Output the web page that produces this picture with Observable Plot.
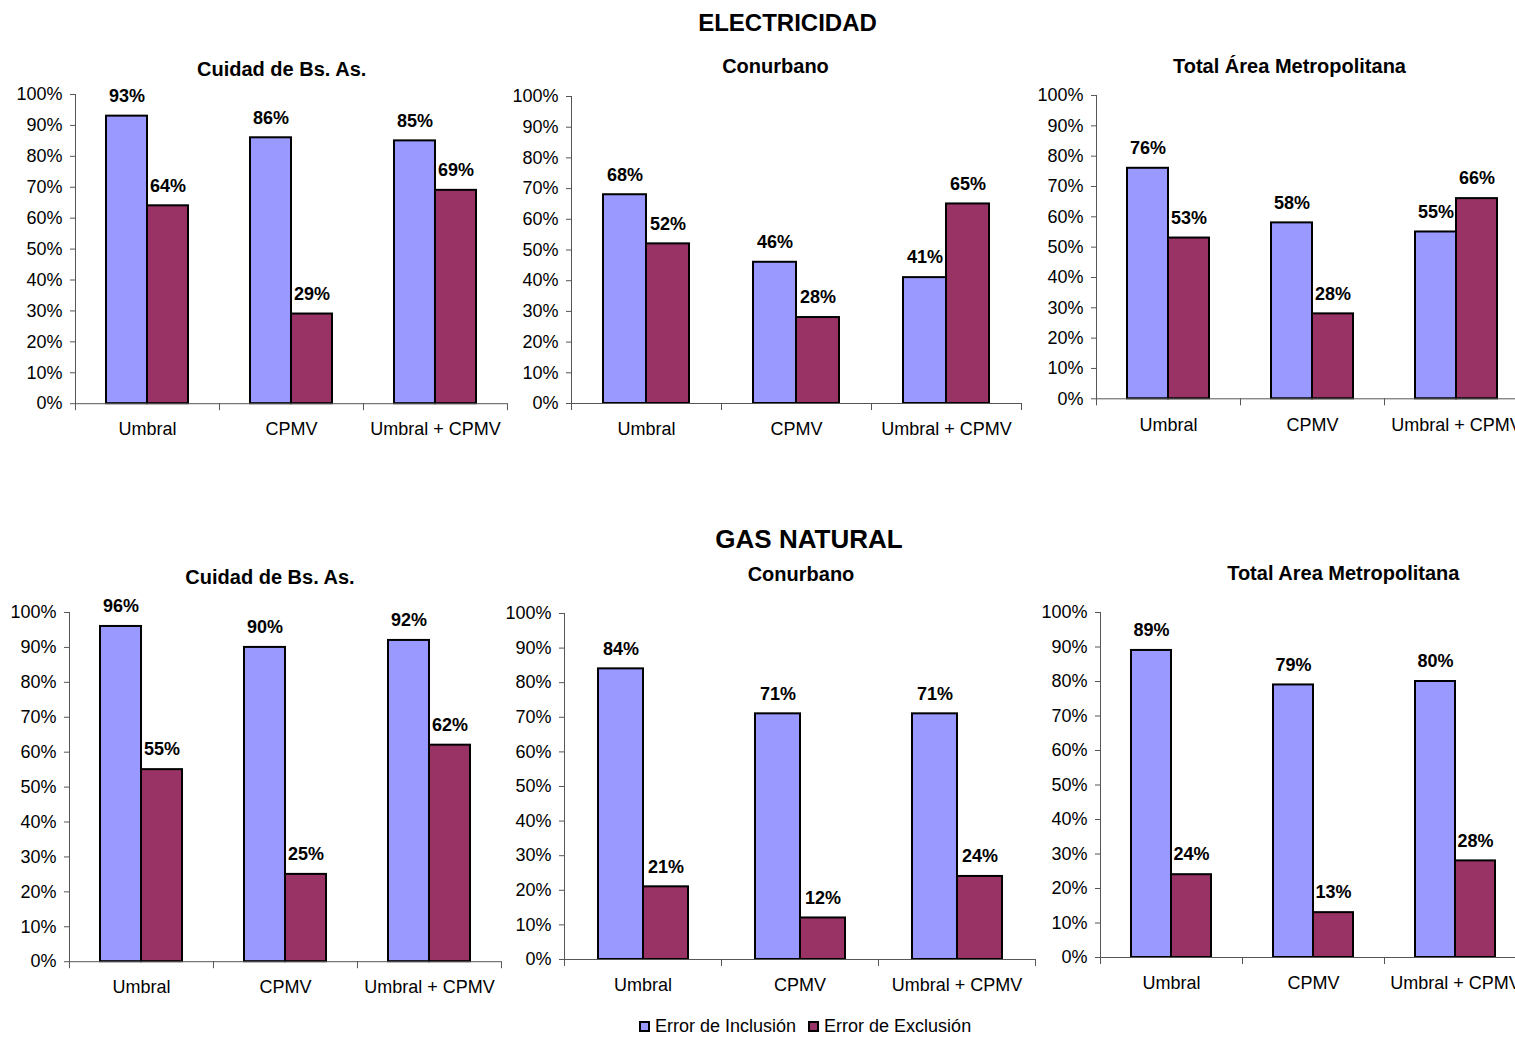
<!DOCTYPE html>
<html><head><meta charset="utf-8">
<script src="https://cdn.jsdelivr.net/npm/d3@7"></script>
<script src="https://cdn.jsdelivr.net/npm/@observablehq/plot@0.6"></script>
<style>
html,body{margin:0;padding:0;background:#fff;}
#root{position:relative;width:1515px;height:1037px;overflow:hidden;font-family:"Liberation Sans",Arial,sans-serif;color:#000;}
.title{position:absolute;transform:translate(-50%,-50%);font-weight:bold;white-space:nowrap;line-height:1;}
.panel{position:absolute;}
.panel svg{max-width:none !important;display:block;}
.legend{position:absolute;display:flex;align-items:center;font-size:18px;line-height:1;white-space:nowrap;}
.sw{display:inline-block;width:7px;height:7px;border:2px solid #000;margin-right:5px;}
</style></head><body><div id="root"></div>
<script>
// ---------- data ----------
const categories = ["Umbral", "CPMV", "Umbral + CPMV"];
const series = ["Error de Inclusión", "Error de Exclusión"];
const seriesColors = ["#9999FF", "#993366"];
const yTicks = [0, 0.1, 0.2, 0.3, 0.4, 0.5, 0.6, 0.7, 0.8, 0.9, 1];
const sectionTitles = ["ELECTRICIDAD", "GAS NATURAL"];
const panelTitles = ["Cuidad de Bs. As.", "Conurbano", "Total Área Metropolitana",
                     "Cuidad de Bs. As.", "Conurbano", "Total Area Metropolitana"];

const elecCiudadIncl = [0.93, 0.86, 0.85];
const elecCiudadExcl = [0.64, 0.29, 0.69];
const elecConurbanoIncl = [0.68, 0.46, 0.41];
const elecConurbanoExcl = [0.52, 0.28, 0.65];
const elecTotalIncl = [0.76, 0.58, 0.55];
const elecTotalExcl = [0.53, 0.28, 0.66];
const gasCiudadIncl = [0.96, 0.90, 0.92];
const gasCiudadExcl = [0.55, 0.25, 0.62];
const gasConurbanoIncl = [0.84, 0.71, 0.71];
const gasConurbanoExcl = [0.21, 0.12, 0.24];
const gasTotalIncl = [0.89, 0.79, 0.80];
const gasTotalExcl = [0.24, 0.13, 0.28];

const panelValues = [
  [elecCiudadIncl, elecCiudadExcl],
  [elecConurbanoIncl, elecConurbanoExcl],
  [elecTotalIncl, elecTotalExcl],
  [gasCiudadIncl, gasCiudadExcl],
  [gasConurbanoIncl, gasConurbanoExcl],
  [gasTotalIncl, gasTotalExcl]
];

// ---------- layout (pixels) ----------
const layout = [
  {axisX: 74,    y100: 93.5,  y0: 402.7, catW: 144.4, tx: 281.7, ty: 69.3},
  {axisX: 571.2, y100: 95.7,  y0: 402.7, catW: 150.0, tx: 775.5, ty: 66},
  {axisX: 1096,  y100: 95,    y0: 398.3, catW: 144.0, tx: 1289.5, ty: 66},
  {axisX: 69,    y100: 612.3, y0: 961.5, catW: 144.2, tx: 270,   ty: 577.3},
  {axisX: 564.2, y100: 612.8, y0: 958.8, catW: 157.1, tx: 801,   ty: 574},
  {axisX: 1100.3,y100: 611.7, y0: 956.7, catW: 142.0, tx: 1343.3, ty: 573.3}
];
const sectionPos = [{x: 787.5, y: 22.5, size: 24}, {x: 809, y: 539, size: 26}];

const root = document.getElementById("root");
const axisColor = "#555";
const fmt = d => Math.round(d * 100) + "%";

sectionTitles.forEach((t, i) => {
  const d = document.createElement("div");
  d.className = "title";
  d.textContent = t;
  d.style.left = sectionPos[i].x + "px";
  d.style.top = sectionPos[i].y + "px";
  d.style.fontSize = sectionPos[i].size + "px";
  root.appendChild(d);
});

const mL = 66, mR = 4, mT = 34, mB = 46;

panelValues.forEach((vals, p) => {
  const L = layout[p];
  const rows = [];
  categories.forEach((c, ci) => {
    series.forEach((s, si) => rows.push({cat: c, serie: s, value: vals[si][ci]}));
  });
  const innerH = L.y0 - L.y100;
  const W = mL + 3 * L.catW + mR;
  const chart = Plot.plot({
    width: W,
    height: mT + innerH + mB,
    marginLeft: mL, marginRight: mR, marginTop: mT, marginBottom: mB,
    style: {fontFamily: "'Liberation Sans', Arial, sans-serif", fontSize: "18px", color: "#000", background: "transparent", overflow: "visible"},
    fx: {domain: categories, padding: 0, label: null},
    x: {domain: series, paddingInner: 0, paddingOuter: 0.74, axis: null},
    y: {domain: [0, 1], label: null},
    color: {domain: series, range: seriesColors},
    marks: [
      Plot.barY(rows, {fx: "cat", x: "serie", y: "value", fill: "serie", stroke: "#000", strokeWidth: 2}),
      Plot.ruleY([0], {stroke: axisColor, strokeWidth: 1}),
      Plot.frame({anchor: "left", facetAnchor: "left", insetBottom: -6, stroke: axisColor, strokeWidth: 1}),
      Plot.frame({anchor: "right", insetTop: innerH, insetBottom: -6, stroke: axisColor, strokeWidth: 1}),
      Plot.axisY({ticks: yTicks, tickFormat: fmt, tickSize: 5, tickPadding: 8, label: null, stroke: axisColor, fill: "#000", fontSize: 18}),
      Plot.axisFx({anchor: "bottom", tickSize: 0, tickPadding: 19, label: null, fill: "#000", fontSize: 18}),
      Plot.text(rows, {fx: "cat", x: "serie", y: "value", text: d => fmt(d.value), dy: -20, lineAnchor: "middle", fontWeight: "bold", fontSize: 18, fill: "#000"})
    ]
  });
  const wrap = document.createElement("div");
  wrap.className = "panel";
  wrap.style.left = (L.axisX - mL) + "px";
  wrap.style.top = (L.y100 - mT) + "px";
  wrap.style.width = W + "px";
  wrap.appendChild(chart);
  root.appendChild(wrap);

  const t = document.createElement("div");
  t.className = "title";
  t.textContent = panelTitles[p];
  t.style.left = L.tx + "px";
  t.style.top = L.ty + "px";
  t.style.fontSize = "20px";
  root.appendChild(t);
});

// legend
const lg = document.createElement("div");
lg.className = "legend";
lg.style.left = "639px";
lg.style.top = "1017px";
series.forEach((s, i) => {
  const item = document.createElement("span");
  item.style.display = "inline-flex";
  item.style.alignItems = "center";
  if (i > 0) item.style.marginLeft = "12px";
  const sw = document.createElement("span");
  sw.className = "sw";
  sw.style.background = seriesColors[i];
  const tx = document.createElement("span");
  tx.textContent = s;
  item.appendChild(sw);
  item.appendChild(tx);
  lg.appendChild(item);
});
root.appendChild(lg);
</script>
</body></html>
